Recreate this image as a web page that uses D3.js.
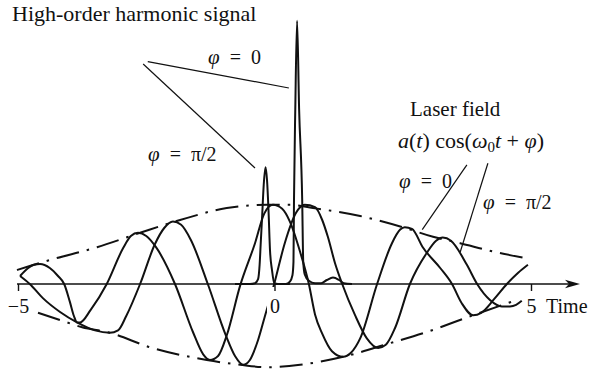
<!DOCTYPE html>
<html>
<head>
<meta charset="utf-8">
<script src="https://cdn.jsdelivr.net/npm/d3@7"></script>
<style>
  html, body { margin: 0; padding: 0; background: #fff; }
  svg { display: block; }
  text { font-family: "Liberation Serif", "Times New Roman", serif; fill: #111; }
</style>
</head>
<body>
<svg id="chart" width="589" height="371"></svg>
<script>
// Envelope a(t), upper and lower branches: [time, amplitude]
const envelopeUpper = [
  [-5.02, 0.175], [-4.77, 0.225], [-4.38, 0.30], [-3.46, 0.46], [-2.62, 0.64],
  [-1.84, 0.80], [-0.93, 0.95], [-0.15, 0.99], [0.30, 0.99], [0.75, 0.95],
  [1.67, 0.85], [2.50, 0.71], [3.09, 0.59], [3.62, 0.51], [4.24, 0.41], [4.88, 0.325]
];
const envelopeLower = [
  [-4.61, -0.36], [-4.18, -0.45], [-3.75, -0.54], [-3.21, -0.61], [-2.43, -0.79],
  [-1.32, -0.95], [-0.67, -1.01], [-0.15, -1.04], [0.50, -1.01], [1.34, -0.91],
  [2.25, -0.74], [2.97, -0.60], [3.87, -0.39], [4.45, -0.26], [4.63, -0.22]
];

// Laser field a(t)cos(w0 t + phi), phase 0
const fieldPhase0 = [
  [-4.96, 0.10], [-4.80, 0.20], [-4.69, 0.24], [-4.57, 0.25], [-4.38, 0.20],
  [-4.22, 0.10], [-4.10, 0.00], [-3.99, -0.22], [-3.91, -0.40], [-3.85, -0.48],
  [-3.79, -0.48], [-3.58, -0.32], [-3.27, 0.00], [-2.95, 0.45], [-2.80, 0.60],
  [-2.66, 0.64], [-2.50, 0.60], [-2.31, 0.46], [-1.94, 0.00], [-1.59, -0.60],
  [-1.39, -0.88], [-1.26, -0.95], [-1.10, -0.90], [-0.93, -0.64], [-0.67, -0.02],
  [-0.38, 0.51], [-0.20, 0.88], [-0.03, 0.99], [0.15, 0.94], [0.30, 0.78],
  [0.50, 0.40], [0.67, 0.00], [0.79, -0.38], [0.93, -0.62], [1.12, -0.84],
  [1.34, -0.91], [1.49, -0.86], [1.67, -0.68], [2.00, 0.00], [2.29, 0.51],
  [2.45, 0.68], [2.54, 0.71], [2.68, 0.69], [2.89, 0.46], [3.23, 0.20],
  [3.46, 0.00], [3.65, -0.24], [3.87, -0.39], [4.03, -0.36], [4.28, -0.19],
  [4.53, 0.00], [4.75, 0.14], [4.94, 0.24]
];

// Laser field, phase pi/2
const fieldPhaseHalfPi = [
  [-4.96, 0.10], [-4.77, 0.00], [-4.51, -0.18], [-4.18, -0.35], [-3.85, -0.48],
  [-3.50, -0.58], [-3.21, -0.61], [-3.05, -0.58], [-2.89, -0.40], [-2.62, 0.00],
  [-2.33, 0.50], [-2.15, 0.70], [-1.98, 0.78], [-1.82, 0.74], [-1.63, 0.55],
  [-1.30, 0.00], [-0.95, -0.64], [-0.77, -0.90], [-0.61, -1.01], [-0.48, -0.95],
  [-0.32, -0.70], [-0.19, -0.41], [-0.01, -0.01], [0.20, 0.51], [0.42, 0.89],
  [0.59, 0.99], [0.79, 0.96], [0.93, 0.80], [1.04, 0.59], [1.18, 0.26],
  [1.32, 0.00], [1.57, -0.39], [1.80, -0.68], [2.02, -0.80], [2.17, -0.76],
  [2.35, -0.55], [2.64, 0.00], [2.97, 0.39], [3.15, 0.54], [3.28, 0.58],
  [3.44, 0.54], [3.75, 0.24], [3.95, 0.00], [4.20, -0.20], [4.43, -0.28],
  [4.59, -0.28], [4.71, -0.26], [4.82, -0.21]
];

// High-order harmonic signal, phase 0
const harmonicPhase0 = [
  [0.01, 0.00], [0.22, 0.00], [0.30, 0.03], [0.35, 0.11], [0.37, 0.28],
  [0.38, 1.05], [0.405, 2.18], [0.44, 3.29], [0.48, 2.18], [0.54, 1.05],
  [0.56, 0.28], [0.59, 0.12], [0.67, 0.04], [0.79, 0.01], [0.91, 0.01],
  [1.02, 0.05], [1.14, 0.08], [1.26, 0.05], [1.35, 0.01], [1.51, 0.00]
];

// High-order harmonic signal, phase pi/2
const harmonicPhaseHalfPi = [
  [-0.77, 0.00], [-0.48, 0.00], [-0.38, 0.01], [-0.32, 0.06], [-0.29, 0.24],
  [-0.27, 0.49], [-0.24, 0.86], [-0.21, 1.24], [-0.175, 1.46], [-0.146, 1.30],
  [-0.117, 0.925], [-0.088, 0.425], [-0.049, 0.175], [-0.004, 0.01], [0.068, 0.00],
  [0.30, 0.00]
];

// Axis ticks
const tickValues = [-5, 0, 5];
const axisLabel = "Time";

// Leader lines from the labels to the curves: [t1, v1, t2, v2]
const leaders = [
  [-2.47, 2.78, 0.28, 2.45],
  [-2.56, 2.75, -0.38, 1.45],
  [3.75, 1.49, 2.88, 0.68],
  [4.16, 1.51, 3.62, 0.40]
];

const svg = d3.select("#chart");
const x = d3.scaleLinear().domain([-5, 5]).range([18, 531]);
const y = d3.scaleLinear().domain([0, 1]).range([284, 204]);

const line = d3.line()
  .x(d => x(d[0]))
  .y(d => y(d[1]))
  .curve(d3.curveMonotoneX);

// envelopes (dash-dot)
[envelopeUpper, envelopeLower].forEach(data => {
  svg.append("path")
    .attr("d", line(data))
    .attr("fill", "none")
    .attr("stroke", "#111")
    .attr("stroke-width", 2)
    .attr("stroke-dasharray", "23,8,2.5,8");
});

// laser fields and harmonic signals
[fieldPhase0, fieldPhaseHalfPi, harmonicPhaseHalfPi, harmonicPhase0].forEach(data => {
  svg.append("path")
    .attr("d", line(data))
    .attr("fill", "none")
    .attr("stroke", "#111")
    .attr("stroke-width", 2)
    .attr("stroke-linejoin", "round");
});

// leader lines
svg.selectAll("line.leader")
  .data(leaders)
  .join("line")
  .attr("class", "leader")
  .attr("x1", d => x(d[0])).attr("y1", d => y(d[1]))
  .attr("x2", d => x(d[2])).attr("y2", d => y(d[3]))
  .attr("stroke", "#111")
  .attr("stroke-width", 1.2);

// time axis with arrow
const axisY = y(0);
const tipX = 580;
svg.append("line")
  .attr("x1", x(-5) - 1).attr("y1", axisY)
  .attr("x2", tipX - 6).attr("y2", axisY)
  .attr("stroke", "#111").attr("stroke-width", 1.6);
svg.append("path")
  .attr("d", `M${tipX},${axisY} L${tipX - 15},${axisY - 4.2} L${tipX - 11},${axisY} L${tipX - 15},${axisY + 4.2} Z`)
  .attr("fill", "#111");

const axisG = svg.append("g")
  .attr("transform", `translate(0,${axisY})`)
  .call(d3.axisBottom(x).tickValues(tickValues).tickSize(7).tickPadding(8).tickFormat(d3.format("d")));
axisG.select(".domain").remove();
axisG.selectAll(".tick line").attr("stroke", "#111").attr("stroke-width", 1.4);
axisG.selectAll(".tick text")
  .attr("font-family", "Liberation Serif, Times New Roman, serif")
  .attr("font-size", 20)
  .attr("fill", "#111");
// white backing behind the "0" label
axisG.selectAll(".tick").filter(d => d === 0)
  .insert("rect", "text")
  .attr("x", -8).attr("y", 3).attr("width", 16).attr("height", 28)
  .attr("fill", "#fff");
axisG.selectAll(".tick").filter(d => d === 0).select("line").raise();

svg.append("text")
  .attr("x", 546).attr("y", 313)
  .attr("font-size", 20)
  .text(axisLabel);

// text labels
svg.append("text").attr("x", 12).attr("y", 21).attr("font-size", 22)
  .text("High-order harmonic signal");

function phaseLabel(px, py, rest) {
  const t = svg.append("text").attr("x", px).attr("y", py).attr("font-size", 20);
  t.append("tspan").attr("font-style", "italic").attr("font-size", 21).text("φ");
  t.append("tspan").text("\u2002=\u2002" + rest);
  return t;
}
phaseLabel(208, 64, "0");
phaseLabel(148, 161, "π/2");
phaseLabel(399, 188, "0");
phaseLabel(483, 209, "π/2");

svg.append("text").attr("x", 410).attr("y", 116).attr("font-size", 21).text("Laser field");

const f = svg.append("text").attr("x", 398).attr("y", 148).attr("font-size", 22);
f.append("tspan").attr("font-style", "italic").text("a");
f.append("tspan").text("(");
f.append("tspan").attr("font-style", "italic").text("t");
f.append("tspan").text(") cos(");
f.append("tspan").attr("font-style", "italic").text("ω");
f.append("tspan").attr("font-size", 15).attr("dy", 4).text("0");
f.append("tspan").attr("font-style", "italic").attr("dy", -4).text("t");
f.append("tspan").text(" + ");
f.append("tspan").attr("font-style", "italic").text("φ");
f.append("tspan").text(")");
</script>
</body>
</html>
